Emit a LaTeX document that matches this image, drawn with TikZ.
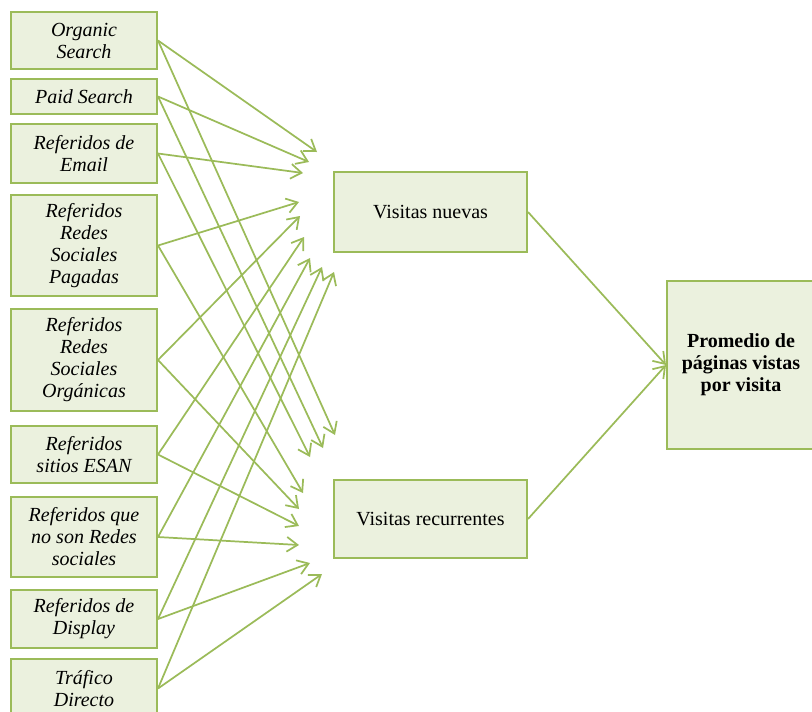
\documentclass[tikz,border=0pt]{standalone}
\usepackage{fontspec}
\setmainfont{Liberation Serif}
\usetikzlibrary{arrows.meta}
\definecolor{gline}{HTML}{9BBB59}
\definecolor{gfill}{HTML}{EBF1DE}
\tikzset{
  box/.style={draw=gline, fill=gfill, line width=1.5pt, inner sep=0pt, align=center,
    font=\fontsize{15}{16.5}\selectfont},
  lbox/.style={box, minimum width=109.5pt, font=\fontsize{15}{16.5}\selectfont\itshape},
  arr/.style={draw=gline, line width=1.3pt, -{Straight Barb[length=8pt,width=11pt]}}
}
\begin{document}
\begin{tikzpicture}[x=0.75pt,y=-0.75pt]
\useasboundingbox (0,0) rectangle (812,711);
\clip (0,0) rectangle (812,711);
% left boxes
\node[lbox, minimum height=42.75pt] (b1) at (84,40.5) {Organic\\Search};
\node[lbox, minimum height=26.25pt] (b2) at (84,96.5) {Paid Search};
\node[lbox, minimum height=44.25pt] (b3) at (84,153.5) {Referidos de\\Email};
\node[lbox, minimum height=75.75pt] (b4) at (84,245.5) {Referidos\\Redes\\Sociales\\Pagadas};
\node[lbox, minimum height=76.5pt] (b5) at (84,360) {Referidos\\Redes\\Sociales\\Orgánicas};
\node[lbox, minimum height=42.75pt] (b6) at (84,454.5) {Referidos\\sitios ESAN};
\node[lbox, minimum height=60pt] (b7) at (84,537) {Referidos que\\no son Redes\\sociales};
\node[lbox, minimum height=43.5pt] (b8) at (84,619) {Referidos de\\Display};
\node[lbox, minimum height=44.25pt] (b9) at (84,688.5) {Tráfico\\Directo};
% middle and right boxes
\node[box, minimum width=144.75pt, minimum height=60pt] (vn) at (430.5,212) {Visitas nuevas};
\node[box, minimum width=144.75pt, minimum height=58.5pt] (vr) at (430.5,519) {Visitas recurrentes};
\node[box, minimum width=111pt, minimum height=126pt, font=\fontsize{15}{16.5}\selectfont\bfseries] (pr) at (741,365) {Promedio de\\páginas vistas\\por visita};
% arrow tips
\coordinate (u1) at (317,152);
\coordinate (u2) at (309,162);
\coordinate (u3) at (303,173);
\coordinate (u4) at (299,202);
\coordinate (u5) at (300,216);
\coordinate (u6) at (304,237);
\coordinate (u7) at (310,258);
\coordinate (u8) at (322,267);
\coordinate (u9) at (334,272);
\coordinate (l1) at (335,435);
\coordinate (l2) at (323,448);
\coordinate (l3) at (310,457);
\coordinate (l4) at (303,493);
\coordinate (l5) at (299,509);
\coordinate (l6) at (299,526);
\coordinate (l7) at (299,545);
\coordinate (l8) at (310,563);
\coordinate (l9) at (322,574);
\foreach \i in {1,...,9}{
  \draw[arr] (b\i.east) -- (u\i);
  \draw[arr] (b\i.east) -- (l\i);
}
\draw[arr] (vn.east) -- (pr.west);
\draw[arr] (vr.east) -- (pr.west);
\end{tikzpicture}
\end{document}
